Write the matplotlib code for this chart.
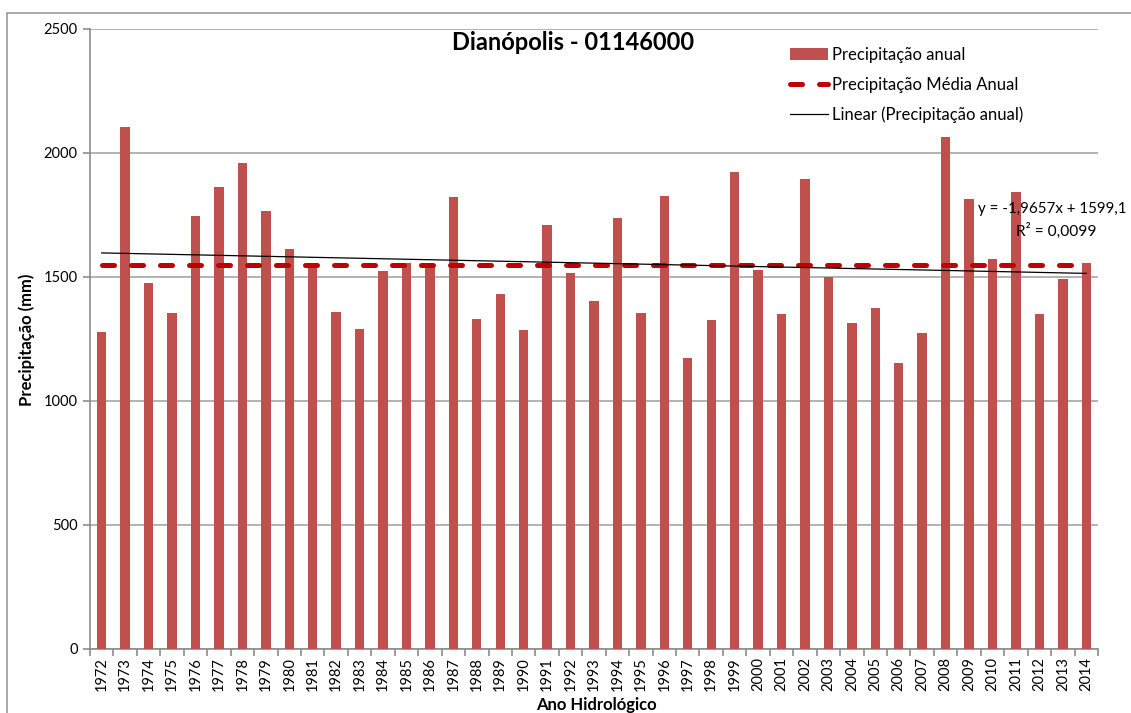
import matplotlib
matplotlib.use("Agg")
import matplotlib.pyplot as plt
from matplotlib.patches import Rectangle
import numpy as np

years = [str(y) for y in range(1972, 2015)]
precip = [1277, 2106, 1474, 1354, 1746, 1862, 1958, 1768, 1611, 1539,
          1358, 1291, 1524, 1556, 1543, 1822, 1331, 1430, 1287, 1709,
          1515, 1402, 1736, 1354, 1826, 1172, 1325, 1925, 1528, 1350,
          1897, 1501, 1313, 1375, 1155, 1273, 2066, 1813, 1574, 1844,
          1350, 1492, 1555]
mean_precip = 1550
trend_slope = -1.9657
trend_intercept = 1599.1
title = "Dianópolis - 01146000"
ylabel = "Precipitação (mm)"
xlabel = "Ano Hidrológico"
labels = ["Precipitação anual", "Precipitação Média Anual", "Linear (Precipitação anual)"]
eq_text = "y = -1,9657x + 1599,1"
r2_text = "R² = 0,0099"

plt.rcParams['font.family'] = ['Lato', 'DejaVu Sans']

W, H = 1131, 713
fig = plt.figure(figsize=(W / 100, H / 100), dpi=100)
ax = fig.add_axes([90 / W, (H - 649) / H, 1008 / W, 620 / H])

x = np.arange(len(years))
bars = ax.bar(x, precip, width=0.4, color='#C0504D', zorder=3, label=labels[0])
mean_line, = ax.plot([x[0], x[-1]], [mean_precip, mean_precip], color='#C00000',
                     lw=3.6, dashes=(2.4, 3.4), dash_capstyle='round',
                     zorder=4, label=labels[1])
xn = x + 1
trend, = ax.plot([x[0], x[-1]], [trend_slope * xn[0] + trend_intercept,
                                 trend_slope * xn[-1] + trend_intercept],
                 color='black', lw=0.9, zorder=5, label=labels[2])

ax.set_xlim(-0.5, len(years) - 0.5)
ax.set_ylim(0, 2500)
ax.set_yticks(range(0, 2501, 500))
ax.yaxis.grid(True, color='#a6a6a6', lw=1.2, zorder=0)
ax.set_axisbelow(True)
for s in ['top', 'right']:
    ax.spines[s].set_visible(False)
for s in ['left', 'bottom']:
    ax.spines[s].set_color('#8c8c8c')
    ax.spines[s].set_linewidth(1.2)

ax.set_xticks(x)
ax.set_xticklabels(years, rotation=90, fontsize=10.5)
ax.set_xticks(np.arange(-0.5, len(years), 1.0), minor=True)
ax.tick_params(axis='x', which='major', length=0, pad=6)
ax.tick_params(axis='x', which='minor', length=5, color='#8c8c8c', width=1.2)
ax.tick_params(axis='y', length=5, color='#8c8c8c', width=1.2, labelsize=10.5, pad=4)

fig.text(27 / W, 1 - 340 / H, ylabel, rotation=90, ha='center', va='center',
         fontsize=12, fontweight='bold')
fig.text(596 / W, 1 - 705 / H, xlabel, ha='center', va='center',
         fontsize=12, fontweight='bold')
fig.text(573 / W, 1 - 43 / H, title, ha='center', va='center',
         fontsize=17, fontweight='bold')

fig.legend(handles=[bars, mean_line, trend], labels=labels,
           loc='upper left', bbox_to_anchor=(790 / W, 1 - 47 / H),
           frameon=False, fontsize=12, handlelength=2.3, handletextpad=0.2,
           labelspacing=0.82, borderpad=0, borderaxespad=0)

fig.text(978 / W, 1 - 209 / H, eq_text, ha='left', va='center', fontsize=10.9)
fig.text(1097 / W, 1 - 231 / H, r2_text, ha='right', va='center', fontsize=11.2)

fig.patches.append(Rectangle((7 / W, -0.1), 1.2, 1.1 - 13 / H,
                             transform=fig.transFigure, fill=False,
                             edgecolor='#9a9a9a', lw=1.2))

fig.savefig('out.png', dpi=100)
